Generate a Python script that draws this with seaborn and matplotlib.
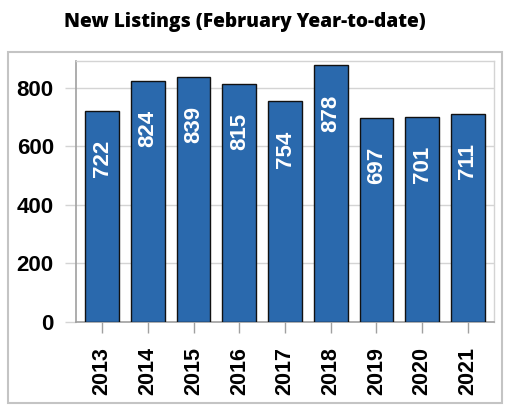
import matplotlib
matplotlib.use("Agg")
import matplotlib.pyplot as plt
import seaborn as sns
import pandas as pd
from matplotlib.patches import Rectangle

years = ["2013", "2014", "2015", "2016", "2017", "2018", "2019", "2020", "2021"]
listings = [722, 824, 839, 815, 754, 878, 697, 701, 711]
y_ticks = [0, 200, 400, 600, 800]

title_text = "New Listings (February Year-to-date)"
bar_color = "#2a69ad"

sns.set_style("white")
plt.rcParams['font.family'] = ['Liberation Sans', 'DejaVu Sans']

df = pd.DataFrame({"year": years, "listings": listings})

fig = plt.figure(figsize=(5.12, 4.15), dpi=100)
ax = fig.add_axes([76 / 512, 93 / 415, 418 / 512, 261 / 415])

sns.barplot(data=df, x="year", y="listings", color=bar_color, saturation=1,
            width=0.74, edgecolor="#111111", linewidth=1.0, ax=ax, zorder=3)

# 柱内数值标签
for i, v in enumerate(listings):
    ax.annotate(str(v), xy=(i, v), xytext=(0, -21), textcoords="offset points",
                rotation=90, ha="center", va="top", color="white",
                fontsize=16, fontweight="bold", zorder=4)

ax.set_xlim(-0.57, len(years) - 0.43)
ax.set_ylim(0, 892)
ax.set_yticks(y_ticks)
ax.set_xlabel("")
ax.set_ylabel("")
ax.grid(axis="y", color="#d4d4d4", linewidth=1.0, zorder=0)
ax.grid(axis="x", visible=False)

for lab in ax.get_xticklabels():
    lab.set_rotation(90)
ax.tick_params(axis="x", length=8, width=1, color="#a0a0a0", pad=10,
               labelsize=15.5, labelcolor="black", bottom=True)
ax.tick_params(axis="y", length=8, width=1, color="#d4d4d4", pad=8,
               labelsize=16, labelcolor="black", left=True)
for lab in ax.get_xticklabels() + ax.get_yticklabels():
    lab.set_fontweight("bold")

for side in ["left", "bottom"]:
    ax.spines[side].set_color("#a0a0a0")
    ax.spines[side].set_linewidth(1.2)
for side in ["top", "right"]:
    ax.spines[side].set_color("#d4d4d4")
    ax.spines[side].set_linewidth(1.0)

# 外框
fig.patches.append(Rectangle((8 / 512, 12 / 415), 494 / 512, 351 / 415,
                             transform=fig.transFigure, fill=False,
                             edgecolor="#c4c4c4", linewidth=1.5))

fig.text(64 / 512, (415 - 27) / 415, title_text, ha="left", va="baseline",
         fontsize=13.8, fontweight="heavy", color="black",
         family=["Open Sans", "DejaVu Sans"])

fig.savefig("out.png", dpi=100)
